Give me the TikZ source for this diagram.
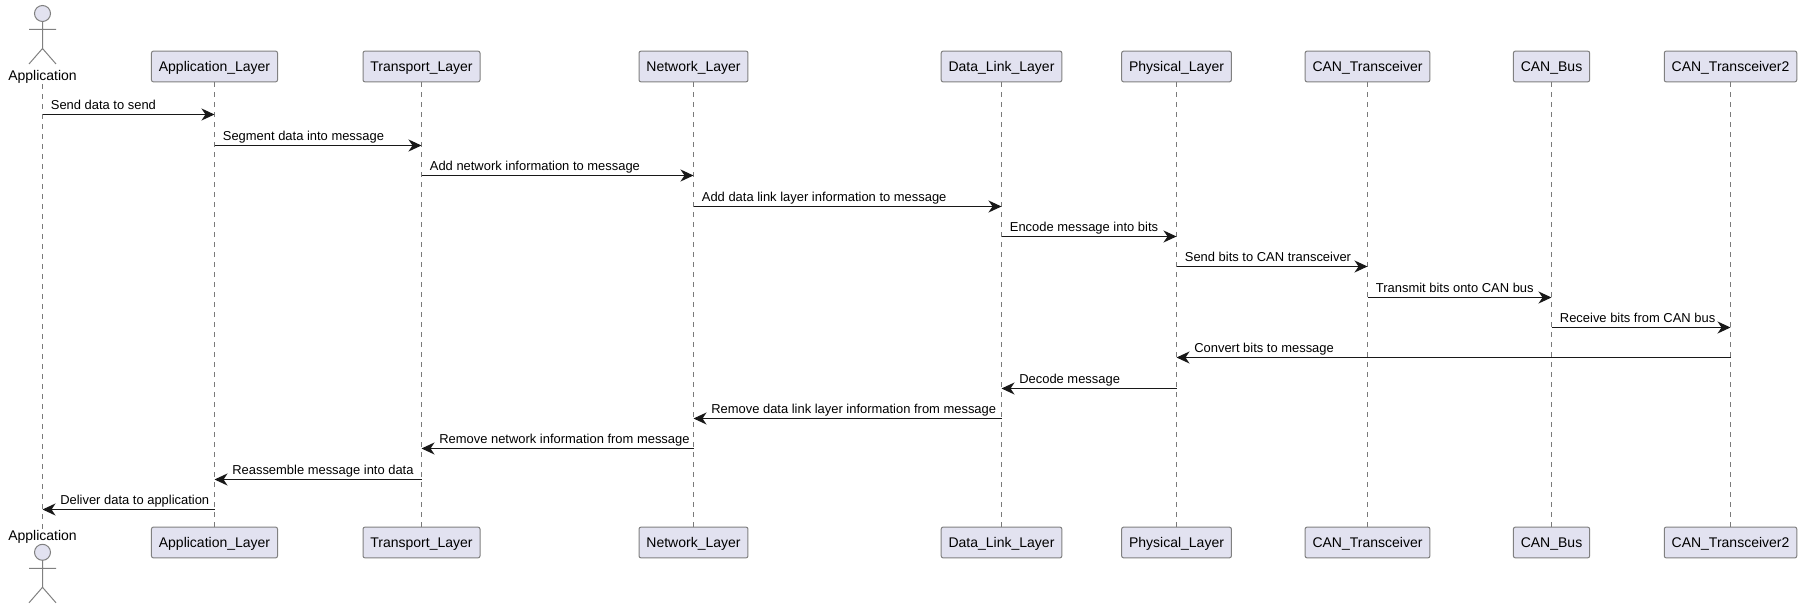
\documentclass[tikz,border=0pt]{standalone}
\usepackage{fontspec}
\setmainfont{Liberation Sans}
\usetikzlibrary{arrows.meta}

\definecolor{partfill}{HTML}{E2E2F0}
\definecolor{partline}{HTML}{181818}
\definecolor{lifeline}{HTML}{7A7A7A}

\begin{document}
\begin{tikzpicture}[x=0.5pt,y=-0.5pt]
 \tikzset{
  part/.style={draw=partline!55, fill=partfill, line width=0.5pt, rounded corners=1pt, inner xsep=3.7pt, inner ysep=0pt, minimum height=15.4pt, font=\fontsize{7}{8}\selectfont, text height=5.6pt, text depth=0.6pt},
  actorname/.style={inner sep=0pt, font=\fontsize{7}{8}\selectfont, text height=5pt, text depth=1.4pt},
  life/.style={draw=lifeline, line width=0.5pt, dash pattern=on 2.5pt off 2.5pt},
  msg/.style={draw=partline, line width=0.6pt, -{Stealth[length=6.5pt,width=6pt,inset=2pt]}},
  tolabel/.style={pos=0, anchor=base west, inner sep=0pt, xshift=3.9pt, yshift=2.4pt, font=\fontsize{6.47}{7}\selectfont},
  backlabel/.style={pos=1, anchor=base west, inner sep=0pt, xshift=8.6pt, yshift=2.4pt, font=\fontsize{6.47}{7}\selectfont},
  stickman/.pic={
   \draw[draw=partline!55, fill=partfill, line width=0.5pt] (0,0) circle (4pt);
   \draw[draw=partline!55, line width=0.5pt] (0,8) -- (0,35) (-13.5,16) -- (13.5,16) (-13.5,50.5) -- (0,35) -- (13.5,50.5);
  }
 }
 \useasboundingbox (0,0) rectangle (1802,608);

 % top row
 \node[actorname] (appT)  at (42.5,77.3) {Application};
 \node[part] (alT) at (214.5,66.5) {Application\_Layer};
 \node[part] (tlT) at (421.5,66.5) {Transport\_Layer};
 \node[part] (nlT) at (693.5,66.5)   {Network\_Layer};
 \node[part] (dlT) at (1001.5,66.5)  {Data\_Link\_Layer};
 \node[part] (plT) at (1176.5,66.5)  {Physical\_Layer};
 \node[part] (ctT) at (1367.5,66.5) {CAN\_Transceiver};
 \node[part] (cbT) at (1551.5,66.5) {CAN\_Bus};
 \node[part] (c2T) at (1730.5,66.5) {CAN\_Transceiver2};
 \pic at (42.5,13.5) {stickman};

 % bottom row
 \node[actorname] (appB)  at (42.5,537) {Application};
 \node[part] (alB) at (214.5,542.5) {Application\_Layer};
 \node[part] (tlB) at (421.5,542.5) {Transport\_Layer};
 \node[part] (nlB) at (693.5,542.5)   {Network\_Layer};
 \node[part] (dlB) at (1001.5,542.5)  {Data\_Link\_Layer};
 \node[part] (plB) at (1176.5,542.5)  {Physical\_Layer};
 \node[part] (ctB) at (1367.5,542.5) {CAN\_Transceiver};
 \node[part] (cbB) at (1551.5,542.5) {CAN\_Bus};
 \node[part] (c2B) at (1730.5,542.5) {CAN\_Transceiver2};
 \pic at (42.5,552.3) {stickman};

 % lifelines
 \draw[life] (appT) -- (appB);
 \draw[life] (alT) -- (alB);
 \draw[life] (tlT) -- (tlB);
 \draw[life] (nlT) -- (nlB);
 \draw[life] (dlT) -- (dlB);
 \draw[life] (plT) -- (plB);
 \draw[life] (ctT) -- (ctB);
 \draw[life] (cbT) -- (cbB);
 \draw[life] (c2T) -- (c2B);

 % message ends sit on the lifelines
 \coordinate (m1a) at (appT |- 0,114.5);  \coordinate (m1b) at (alT |- 0,114.5);
 \coordinate (m2a) at (alT |- 0,145.5);   \coordinate (m2b) at (tlT |- 0,145.5);
 \coordinate (m3a) at (tlT |- 0,175.5);   \coordinate (m3b) at (nlT |- 0,175.5);
 \coordinate (m4a) at (nlT |- 0,206.5);   \coordinate (m4b) at (dlT |- 0,206.5);
 \coordinate (m5a) at (dlT |- 0,236.5);   \coordinate (m5b) at (plT |- 0,236.5);
 \coordinate (m6a) at (plT |- 0,266.5);   \coordinate (m6b) at (ctT |- 0,266.5);
 \coordinate (m7a) at (ctT |- 0,297.5);   \coordinate (m7b) at (cbT |- 0,297.5);
 \coordinate (m8a) at (cbT |- 0,327.5);   \coordinate (m8b) at (c2T |- 0,327.5);
 \coordinate (m9a) at (c2T |- 0,357.5);   \coordinate (m9b) at (plT |- 0,357.5);
 \coordinate (m10a) at (plT |- 0,388.5);  \coordinate (m10b) at (dlT |- 0,388.5);
 \coordinate (m11a) at (dlT |- 0,418.5);  \coordinate (m11b) at (nlT |- 0,418.5);
 \coordinate (m12a) at (nlT |- 0,448.5);  \coordinate (m12b) at (tlT |- 0,448.5);
 \coordinate (m13a) at (tlT |- 0,479.5);  \coordinate (m13b) at (alT |- 0,479.5);
 \coordinate (m14a) at (alT |- 0,509.5);  \coordinate (m14b) at (appT |- 0,509.5);

 \draw[msg] (m1a) -- node[tolabel]{Send data to send} (m1b);
 \draw[msg] (m2a) -- node[tolabel]{Segment data into message} (m2b);
 \draw[msg] (m3a) -- node[tolabel]{Add network information to message} (m3b);
 \draw[msg] (m4a) -- node[tolabel]{Add data link layer information to message} (m4b);
 \draw[msg] (m5a) -- node[tolabel]{Encode message into bits} (m5b);
 \draw[msg] (m6a) -- node[tolabel]{Send bits to CAN transceiver} (m6b);
 \draw[msg] (m7a) -- node[tolabel]{Transmit bits onto CAN bus} (m7b);
 \draw[msg] (m8a) -- node[tolabel]{Receive bits from CAN bus} (m8b);
 \draw[msg] (m9a) -- node[backlabel]{Convert bits to message} (m9b);
 \draw[msg] (m10a) -- node[backlabel]{Decode message} (m10b);
 \draw[msg] (m11a) -- node[backlabel]{Remove data link layer information from message} (m11b);
 \draw[msg] (m12a) -- node[backlabel]{Remove network information from message} (m12b);
 \draw[msg] (m13a) -- node[backlabel]{Reassemble message into data} (m13b);
 \draw[msg] (m14a) -- node[backlabel]{Deliver data to application} (m14b);
\end{tikzpicture}
\end{document}
